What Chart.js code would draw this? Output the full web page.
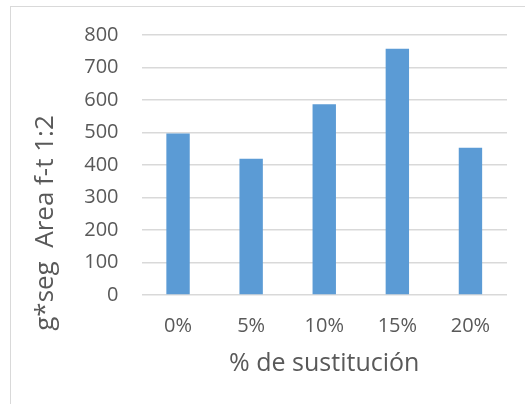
<!DOCTYPE html>
<html>
<head>
<meta charset="utf-8">
<script src="https://cdn.jsdelivr.net/npm/chart.js@4"></script>
<style>
  html, body { margin: 0; padding: 0; background: #fff; overflow: hidden; }
  #wrap { position: relative; width: 525px; height: 404px; }
  #frame { position: absolute; left: 10px; top: 6px; width: 600px; height: 500px;
           border: 1px solid #d9d9d9; box-sizing: border-box; }
  canvas { position: absolute; left: 0; top: 0; }
</style>
</head>
<body>
<div id="wrap">
  <div id="frame"></div>
  <canvas id="c" width="525" height="404"></canvas>
</div>
<script>
// Substitution percentages and measured f-t area
const categories = ['0%', '5%', '10%', '15%', '20%'];
const areaValues = [497, 419, 587, 758, 453];
const yTicks = [0, 100, 200, 300, 400, 500, 600, 700, 800];
const yTitle = 'g*seg  Area f-t 1:2';
const xTitle = '% de sustitución';

const textColor = '#595959';
const fontFamily = "'Open Sans', 'Noto Sans', sans-serif";

// Vertical axis title, centred on the whole frame height
const sideTitle = {
  id: 'sideTitle',
  afterDraw(chart) {
    const ctx = chart.ctx;
    ctx.save();
    ctx.translate(46, 223);
    ctx.rotate(-Math.PI / 2);
    ctx.font = "26px " + fontFamily;
    ctx.fillStyle = textColor;
    ctx.textAlign = 'center';
    ctx.textBaseline = 'middle';
    ctx.fillText(yTitle, 0, 0);
    ctx.restore();
  }
};

new Chart(document.getElementById('c'), {
  type: 'bar',
  data: {
    labels: categories,
    datasets: [{
      data: areaValues,
      backgroundColor: '#5b9bd5',
      barPercentage: 0.32,
      categoryPercentage: 1.0
    }]
  },
  plugins: [sideTitle],
  options: {
    responsive: false,
    animation: false,
    layout: { padding: { left: 0, top: 35, right: 18, bottom: 0 } },
    plugins: { legend: { display: false }, tooltip: { enabled: false } },
    scales: {
      x: {
        grid: { display: false },
        border: { display: false },
        ticks: { color: textColor, font: { size: 20, family: fontFamily }, padding: 11 },
        title: {
          display: true, text: xTitle, color: textColor,
          font: { size: 25, family: fontFamily },
          padding: { top: 0, bottom: 25 }
        },
        afterFit(scale) { scale.height = 109; }
      },
      y: {
        min: 0, max: 800,
        afterBuildTicks(scale) { scale.ticks = yTicks.map(v => ({ value: v })); },
        grid: { color: '#d9d9d9', lineWidth: 1.5, drawTicks: false },
        border: { display: false },
        ticks: { color: textColor, font: { size: 20, family: fontFamily }, padding: 23 },
        afterFit(scale) { scale.width = 141.5; }
      }
    }
  }
});
</script>
</body>
</html>
